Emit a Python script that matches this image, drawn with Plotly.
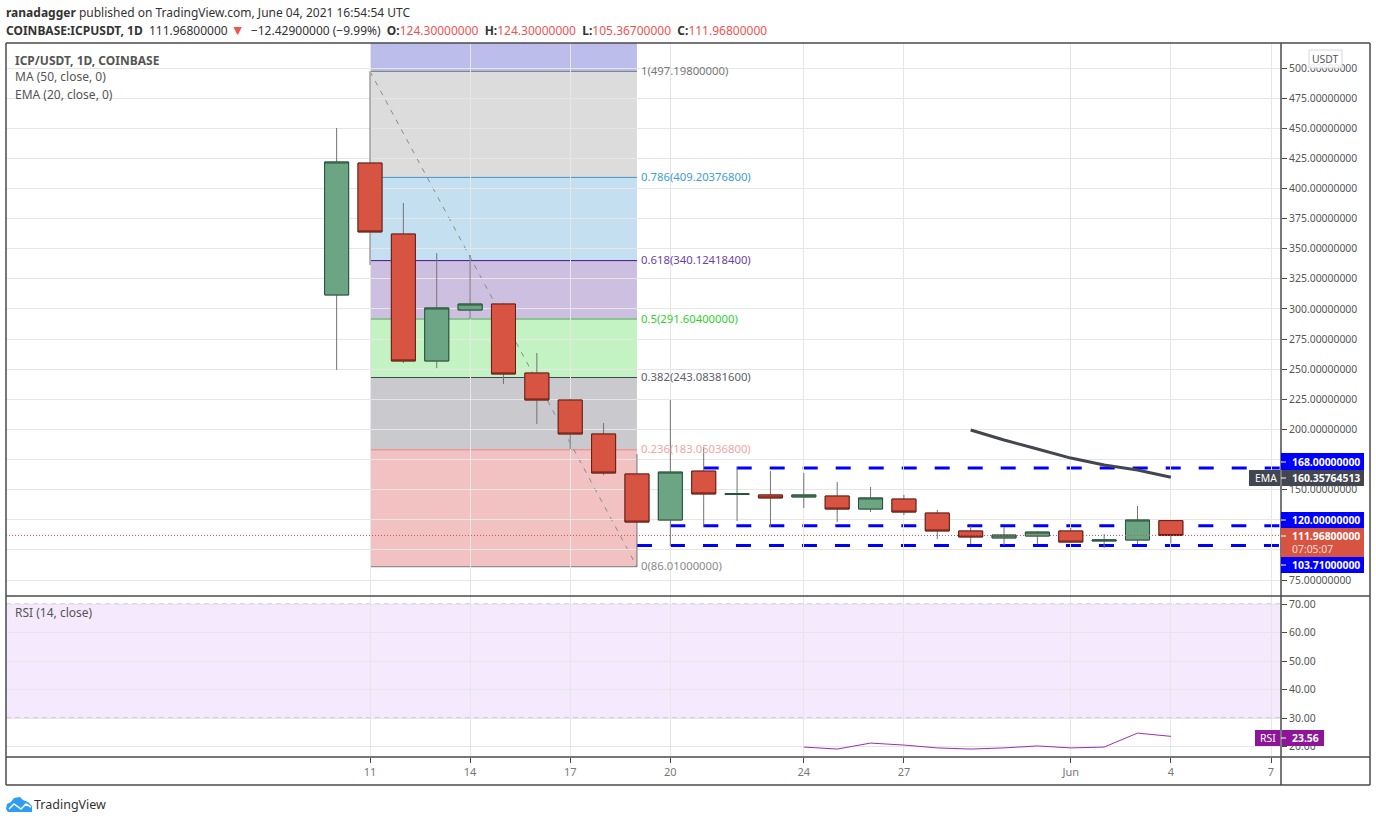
from datetime import datetime, timedelta
import plotly.graph_objects as go

W, H = 1376, 823
FONT = "Noto Sans"
# ---------- data ----------
dates = ["2021-05-10","2021-05-11","2021-05-12","2021-05-13","2021-05-14","2021-05-15","2021-05-16","2021-05-17",
         "2021-05-18","2021-05-19","2021-05-20","2021-05-21","2021-05-22","2021-05-23","2021-05-24","2021-05-25",
         "2021-05-26","2021-05-27","2021-05-28","2021-05-29","2021-05-30","2021-05-31","2021-06-01","2021-06-02",
         "2021-06-03","2021-06-04"]
opens = [311.6,421.1,362.2,256.8,299.1,304.1,246.8,224.4,196.2,163.0,124.8,165.4,146.0,145.6,143.9,144.7,133.9,142.2,130.6,115.7,109.9,111.5,115.7,107.4,108.2,124.3]
highs = [450.2,497.198,387.9,346.4,344.8,304.9,263.4,225.2,205.3,179.6,224.4,185.4,168.8,165.4,163.8,156.3,152.2,145.6,133.1,119.8,119.0,115.7,118.2,113.2,136.4,124.3]
lows = [249.3,336.5,255.1,250.9,291.6,237.7,204.5,183.7,162.1,86.01,103.2,119.0,124.0,119.0,134.8,123.1,131.4,128.9,109.0,104.9,104.0,104.9,105.7,101.5,104.9,105.367]
closes = [422.0,363.9,256.8,300.8,304.1,246.0,224.4,196.2,163.8,123.1,164.6,146.4,146.6,143.1,145.6,133.9,143.1,131.4,115.7,110.7,112.3,114.8,106.5,108.2,124.8,111.968]

ema_dates = ["2021-05-29","2021-05-30","2021-05-31","2021-06-01","2021-06-02","2021-06-03","2021-06-04"]
ema_values = [199.5,191.2,183.7,176.2,170.5,166.3,160.358]

rsi_dates = ["2021-05-24","2021-05-25","2021-05-26","2021-05-27","2021-05-28","2021-05-29","2021-05-30","2021-05-31",
             "2021-06-01","2021-06-02","2021-06-03","2021-06-04"]
rsi_values = [19.8,19.1,21.2,20.5,19.5,19.1,19.5,20.2,19.5,19.8,24.7,23.56]

fib_levels = ["0","0.236","0.382","0.5","0.618","0.786","1"]
fib_prices = [86.01,183.05036800,243.08381600,291.60400000,340.12418400,409.20376800,497.19800000]
fib_top = 608.8
fib_band_fill = ["rgba(229,133,133,.5)","rgba(147,147,157,.5)","rgba(135,229,135,.5)","rgba(153,127,193,.5)",
                 "rgba(135,191,225,.5)","rgba(185,185,185,.5)","rgba(121,123,215,.5)"]
fib_line = ["#787b86","#f08080","#434651","#4caf50","#4a148c","#3d97cf","#787b86"]
fib_text = ["#8a8a8a","#f0a5a5","#5d606b","#2fd02f","#6b3fa5","#3d9dd6","#787878"]
fib_start, fib_end = "2021-05-11", "2021-05-19"

sr_levels = [168.0, 120.0, 103.71]
sr_starts = ["2021-05-21", "2021-05-20", "2021-05-19"]
last_price = 111.968

tick_dates = ["2021-05-11","2021-05-14","2021-05-17","2021-05-20","2021-05-24","2021-05-27","2021-06-01","2021-06-04","2021-06-07"]
tick_text = ["11","14","17","20","24","27","Jun","4","7"]
price_ticks = list(range(75, 525, 25))
price_hidden = [100, 125, 175]   # covered by the price tags in the picture
rsi_ticks = [20,30,40,50,60,70]

# ---------- pixel helpers (layout only) ----------
L, R, T, B1, B2, AX_R, BOTTOM = 6, 1281, 43, 596, 757, 1370, 785
def px(x): return x / W
def py(y): return 1 - y / H
day0 = datetime(2021,5,11); px_day = (1271-370)/27
xr = [day0 + timedelta(days=(L-370)/px_day), day0 + timedelta(days=(R-370)/px_day)]
def pv(y): return 500 - (y-68)/1.2047
def rv(y): return 70 - (y-604)/2.85

fig = go.Figure()
fig.add_trace(go.Candlestick(x=dates, open=opens, high=highs, low=lows, close=closes,
    increasing=dict(line=dict(color="#737375", width=1), fillcolor="#6ba583"),
    decreasing=dict(line=dict(color="#737375", width=1), fillcolor="#d75442"),
    whiskerwidth=0, hoverinfo="skip"))
tops = [max(o, c) for o, c in zip(opens, closes)]
bots = [min(o, c) for o, c in zip(opens, closes)]
fig.add_trace(go.Candlestick(x=dates, open=opens, high=tops, low=bots, close=closes,
    increasing=dict(line=dict(color="#225437", width=1), fillcolor="#6ba583"),
    decreasing=dict(line=dict(color="#6b1a10", width=1), fillcolor="#d75442"),
    whiskerwidth=0, hoverinfo="skip"))
fig.add_trace(go.Scatter(x=ema_dates, y=ema_values, mode="lines", line=dict(color="#434651", width=3), hoverinfo="skip"))
fig.add_trace(go.Scatter(x=rsi_dates, y=rsi_values, mode="lines", line=dict(color="#a02cb0", width=1), xaxis="x2", yaxis="y2", hoverinfo="skip"))

shapes, ann = [], []
# fib bands + lines
tops_f = fib_prices[1:] + [fib_top]
for lo, hi, fc in zip(fib_prices, tops_f, fib_band_fill):
    shapes.append(dict(type="rect", xref="x", yref="y", x0=fib_start, x1=fib_end, y0=lo, y1=hi,
                       fillcolor=fc, line_width=0, layer="below"))
for lev, p, lc, tc in zip(fib_levels, fib_prices, fib_line, fib_text):
    shapes.append(dict(type="line", xref="x", yref="y", x0=fib_start, x1=fib_end, y0=p, y1=p,
                       line=dict(color=lc, width=1), layer="below"))
    ann.append(dict(xref="x", yref="y", x=fib_end, y=p, xanchor="left", yanchor="middle", xshift=2, yshift=1, showarrow=False,
                    text=f"{lev}({p:.8f})", font=dict(family=FONT, size=11.3, color=tc)))
# fib trend line, under the candles
shapes.append(dict(type="line", xref="x", yref="y", x0=fib_start, x1=fib_end, y0=fib_prices[-1], y1=fib_prices[0],
                   line=dict(color="#8a8a8a", width=1, dash="5px,6px"), layer="below"))
# support / resistance dashes, under the candles
for lv, st in zip(sr_levels, sr_starts):
    shapes.append(dict(type="line", xref="x", yref="y", x0=st, x1=xr[1], y0=lv, y1=lv,
                       line=dict(color="#0000ff", width=3, dash="15px,18px"), layer="below"))
# last price dotted
shapes.append(dict(type="line", xref="paper", yref="y", x0=px(L), x1=px(R), y0=last_price, y1=last_price,
                   line=dict(color="#d9534f", width=1, dash="1px,2px")))
# RSI band
shapes.append(dict(type="rect", xref="paper", yref="y2", x0=px(L), x1=px(R), y0=30, y1=70,
                   fillcolor="rgba(165,60,235,.11)", line_width=0, layer="below"))
for v in (30, 70):
    shapes.append(dict(type="line", xref="paper", yref="y2", x0=px(L), x1=px(R), y0=v, y1=v,
                       line=dict(color="#b9adc2", width=1, dash="5px,4px"), layer="below"))
# frame
FR = "#4a4a4a"
def pline(x0, y0, x1, y1, c=FR, w=1.5):
    shapes.append(dict(type="line", xref="paper", yref="paper", x0=px(x0), x1=px(x1), y0=py(y0), y1=py(y1), line=dict(color=c, width=w)))
pline(L,T,AX_R,T); pline(L,BOTTOM,AX_R,BOTTOM); pline(L,T,L,BOTTOM); pline(AX_R,T,AX_R,BOTTOM)
pline(R,T,R,BOTTOM); pline(L,B1,AX_R,B1); pline(L,B2,AX_R,B2)

def box(x0,y0,x1,y1,fill,line=None):
    shapes.append(dict(type="rect", xref="paper", yref="paper", x0=px(x0), x1=px(x1), y0=py(y0), y1=py(y1),
                       fillcolor=fill, line=dict(color=line or fill, width=1 if line else 0)))
def label(x,y,txt,color,size=10.4,anchor="left",bold=False,family=FONT):
    t = f"<b>{txt}</b>" if bold else txt
    ann.append(dict(xref="paper", yref="paper", x=px(x), y=py(y), xanchor=anchor, yanchor="middle", showarrow=False,
                    xshift=-2 if anchor=="left" else 0,
                    text=t, font=dict(family=family, size=size, color=color), align="left"))
# axis tags
BLUE = "#0000ff"
box(R,453,1364,470,BLUE); label(1292,462,"168.00000000","#ffffff",bold=True)
box(1249,470,1280,486,"#434651"); box(1282,470,1364,486,"#434651")
label(1255,478,"EMA","#ffffff"); label(1292,478,"160.35764513","#ffffff",bold=True)
box(R,512,1364,528,BLUE); label(1292,520,"120.00000000","#ffffff",bold=True)
box(R,528,1364,557,"#d75442"); label(1292,536,"111.96800000","#ffffff",bold=True); label(1292,549,"07:05:07","#fbdcd6")
box(R,557,1364,573,BLUE); label(1292,565,"103.71000000","#ffffff",bold=True)
box(1255,730,1280,746,"#8e1599"); box(1282,730,1324,746,"#8e1599")
label(1260,738,"RSI","#ffffff"); label(1292,738,"23.56","#ffffff",bold=True)
for yy in (462,478,520,536,565,738):
    pline(R,yy,R+5,yy,"#ffffff",1)
# USDT button
shapes.append(dict(type="rect", xref="paper", yref="paper", x0=px(1309), x1=px(1342), y0=py(50), y1=py(68),
                   fillcolor="rgba(255,255,255,.85)", line=dict(color="#d8d8e0", width=1)))
label(1325.5,59,"USDT","#555555",size=10.4,anchor="center")
# header
RD = "#ef5350"; NB = "\u00a0"
label(6,12,"<b>ranadagger</b> published on TradingView.com, June 04, 2021 16:54:54 UTC","#333333",size=12)
label(6,29,f'<b>COINBASE:ICPUSDT, 1D</b>{NB}{NB}111.96800000{NB}<span style="color:{RD};font-size:14px">▼</span>{NB}{NB}−12.42900000 (−9.99%){NB}{NB}'
           f'<b>O:</b><span style="color:{RD}">124.30000000</span>{NB}{NB}<b>H:</b><span style="color:{RD}">124.30000000</span>{NB}{NB}'
           f'<b>L:</b><span style="color:{RD}">105.36700000</span>{NB}{NB}<b>C:</b><span style="color:{RD}">111.96800000</span>',"#333333",size=12)
label(15,60,"<b>ICP/USDT, 1D, COINBASE</b>","#555555",size=12)
label(15,77,"MA (50, close, 0)","#555555",size=12)
label(15,94,"EMA (20, close, 0)","#555555",size=12)
label(15,612,"RSI (14, close)","#555555",size=12)
# TradingView logo
def path(pts):
    return "M " + " L ".join(f"{px(x):.5f},{py(y):.5f}" for x,y in pts) + " Z"
shapes.append(dict(type="path", xref="paper", yref="paper", fillcolor="#2e9ef4", line_width=0,
    path=path([(6,809),(7,804),(11,802),(14,798),(20,797),(23,800),(28,802),(32,806),(32,812),(8,812)])))
shapes.append(dict(type="path", xref="paper", yref="paper", fillcolor="rgba(0,0,0,0)", line=dict(color="#ffffff", width=1.5),
    path="M " + " L ".join(f"{px(x):.5f},{py(y):.5f}" for x,y in [(9,809),(14,804),(21,809),(26,804),(31,807)])))
label(34,804,"TradingView","#333333",size=12.5)

grid = "#e6e6e6"
tick = dict(color="#555555", size=10.4)
fig.update_layout(
    width=W, height=H, margin=dict(l=0, r=0, t=0, b=0), paper_bgcolor="#ffffff", plot_bgcolor="#ffffff",
    showlegend=False, font=dict(family=FONT, size=11, color="#555555"), boxgap=0.28, boxgroupgap=0, boxmode="overlay",
    xaxis=dict(domain=[px(L), px(R)], range=xr, type="date", anchor="y", rangeslider=dict(visible=False),
               tickvals=tick_dates, ticktext=tick_text, showticklabels=False, ticks="", showgrid=True, gridcolor=grid, gridwidth=1, zeroline=False, showline=False),
    yaxis=dict(domain=[py(B1), py(T)], range=[pv(B1), pv(T)], side="right", anchor="x", tickvals=price_ticks,
               ticktext=["" if v in price_hidden else f"{v:.8f}" for v in price_ticks],
               ticks="outside", ticklen=5, tickcolor="#4a4a4a", tickfont=tick, showgrid=True, gridcolor=grid, zeroline=False, showline=False),
    xaxis2=dict(domain=[px(L), px(R)], range=xr, type="date", anchor="y2", matches="x",
                tickvals=tick_dates, ticktext=tick_text, ticks="outside", ticklen=5, tickcolor="#4a4a4a", tickfont=dict(color="#777777", size=11),
                showgrid=True, gridcolor=grid, zeroline=False, showline=False),
    yaxis2=dict(domain=[py(B2), py(B1)], range=[rv(B2), rv(B1)], side="right", anchor="x2", tickvals=rsi_ticks,
                tickformat=".2f", ticks="outside", ticklen=5, tickcolor="#4a4a4a", tickfont=tick, showgrid=True, gridcolor=grid, zeroline=False, showline=False),
    shapes=shapes, annotations=ann, hovermode=False,
)
fig.write_html("out.html", config=dict(displayModeBar=False),
               post_script="document.body.style.margin='0';document.body.style.overflow='hidden';")
